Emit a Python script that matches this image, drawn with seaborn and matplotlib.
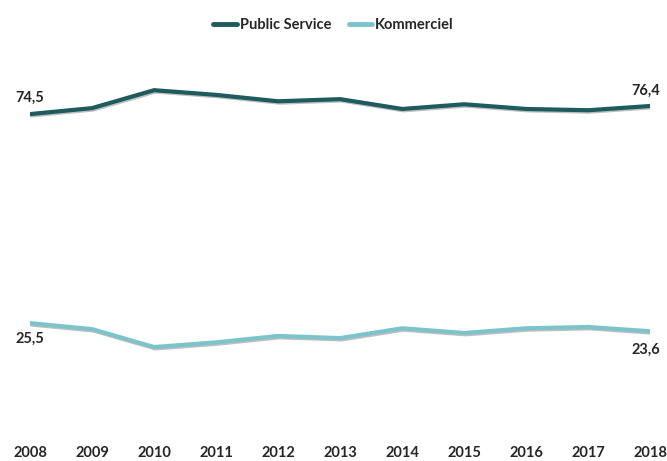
import pandas as pd
import seaborn as sns
import matplotlib.pyplot as plt
import matplotlib.patheffects as pe

# data
years = [2008, 2009, 2010, 2011, 2012, 2013, 2014, 2015, 2016, 2017, 2018]
public_service = [74.5, 75.9, 80.1, 79.0, 77.5, 78.0, 75.7, 76.8, 75.7, 75.4, 76.4]
kommerciel = [25.5, 24.1, 19.9, 21.0, 22.5, 22.0, 24.3, 23.2, 24.3, 24.6, 23.6]
series_names = ['Public Service', 'Kommerciel']
colors = ['#1d5b5e', '#7cc4cb']

df = pd.DataFrame({'year': years * 2,
                   'value': public_service + kommerciel,
                   'serie': [series_names[0]] * len(years) + [series_names[1]] * len(years)})

sns.set_style('white')
plt.rcParams['font.family'] = ['Lato', 'DejaVu Sans']
plt.rcParams['font.weight'] = 'bold'

fig = plt.figure(figsize=(6.67, 4.61), dpi=100)
ax = fig.add_axes([0.045, 0.063, 0.93, 0.833])

sns.lineplot(data=df, x='year', y='value', hue='serie', palette=colors,
             linewidth=3, ax=ax, legend=False)
for line in ax.lines:
    line.set_path_effects([pe.SimpleLineShadow(offset=(1, -1), alpha=0.25), pe.Normal()])

ax.set_xlim(2008, 2018)
ax.set_ylim(0, 90)
ax.set_xticks(years)
ax.set_xticklabels([str(y) for y in years], fontsize=10.5, fontweight='bold')
ax.tick_params(axis='x', length=0, pad=10)
ax.set_yticks([])
ax.set_xlabel('')
ax.set_ylabel('')
sns.despine(ax=ax, left=True, bottom=True)

# end labels
fmt = lambda v: f'{v:.1f}'.replace('.', ',')
ax.annotate(fmt(public_service[0]), (years[0], public_service[0]), xytext=(0, 7),
            textcoords='offset points', ha='center', va='bottom', fontsize=10.5, fontweight='bold')
ax.annotate(fmt(public_service[-1]), (years[-1], public_service[-1]), xytext=(-3, 6),
            textcoords='offset points', ha='center', va='bottom', fontsize=10.5, fontweight='bold')
ax.annotate(fmt(kommerciel[0]), (years[0], kommerciel[0]), xytext=(0, -6),
            textcoords='offset points', ha='center', va='top', fontsize=10.5, fontweight='bold')
ax.annotate(fmt(kommerciel[-1]), (years[-1], kommerciel[-1]), xytext=(-3, -8),
            textcoords='offset points', ha='center', va='top', fontsize=10.5, fontweight='bold')

handles = [plt.Line2D([], [], color=c, linewidth=3.5) for c in colors]
fig.legend(handles, series_names, loc='center', bbox_to_anchor=(0.5, 1 - 25 / 461), ncol=2,
           frameon=False, handlelength=1.6, handletextpad=0.2, columnspacing=1.2,
           prop={'size': 10.5, 'weight': 'bold'})

fig.savefig('out.png', dpi=100)
